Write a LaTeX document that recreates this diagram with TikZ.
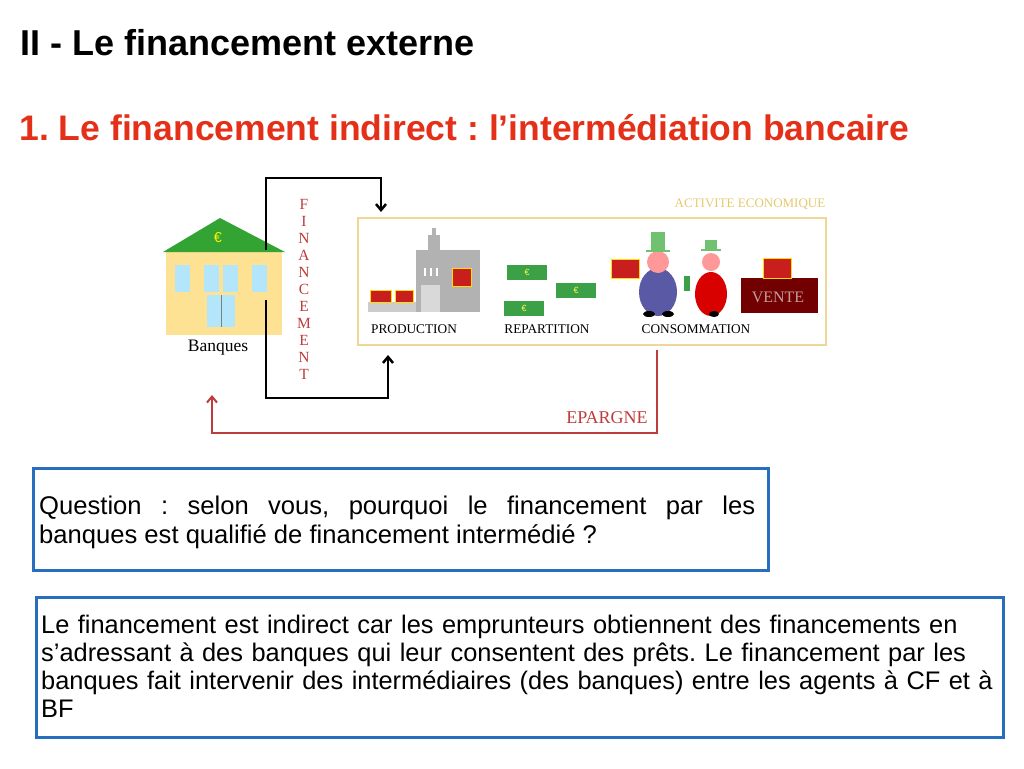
\documentclass[tikz,border=0pt]{standalone}
\usepackage{fontspec}
\setmainfont{Liberation Sans}
\newfontfamily\serf{Liberation Serif}
\usetikzlibrary{arrows.meta}
\definecolor{tred}{RGB}{228,48,24}
\definecolor{qblue}{RGB}{40,110,190}
\definecolor{dred}{RGB}{190,60,60}
\definecolor{ylab}{RGB}{230,200,110}
\definecolor{gift}{RGB}{200,30,30}
\definecolor{money}{RGB}{60,160,70}
\frenchspacing
\hyphenpenalty=10000 \exhyphenpenalty=10000
\begin{document}
\begin{tikzpicture}[x=1pt,y=-1pt,
  lbl/.style={font=\serf\fontsize{13.3}{14}\selectfont,inner sep=0},
  flow/.style={line width=2.5pt,-{Straight Barb[length=6pt,width=10pt]}},
  giftbox/.style={fill=gift,draw=yellow!80!orange,line width=1pt},
  note/.style={fill=money,inner sep=0,minimum width=40pt,minimum height=15pt,text=yellow!70,font=\small},
  qbox/.style={draw=qblue,line width=3pt,inner sep=0}]
\useasboundingbox (0,0) rectangle (1024,768);
\node[anchor=west,font=\bfseries\fontsize{36}{40}\selectfont] (t1) at (17,43) {II - Le financement externe};
\node[anchor=west,text=tred,font=\bfseries\fontsize{35.5}{40}\selectfont] (t2) at (16,128) {1. Le financement indirect : l’intermédiation bancaire};
% bank
\fill[yellow!50!orange!40] (166,250) rectangle (282,368);
\fill[green!55!black!80] (163,252) -- (220,218) -- (285,252) -- cycle;
\node[text=yellow,font=\Large] (eb) at (218,238) {€};
\foreach \x in {175,204,223,252}{\fill[cyan!30] (\x,265) rectangle (\x+15,292);}
\fill[cyan!30] (207,295) rectangle (235,327);
\draw[gray] (221,295) -- (221,327);
\fill[white] (166,330) rectangle (282,368);
\fill[yellow!50!orange!40] (166,330) rectangle (282,335);
\node[lbl,font=\serf\fontsize{17.5}{18}\selectfont] (bq) at (218,348) {Banques};
\coordinate (bt) at (266,250); \coordinate (bb) at (266,300); \coordinate (bs) at (212,395);
% activity box
\draw[ylab!70,line width=1.2pt] (358,218) rectangle (826,345);
\node[lbl,text=ylab,font=\serf\fontsize{13}{14}\selectfont] (ae) at (750,204) {ACTIVITE ECONOMIQUE};
\coordinate (at) at (381,212); \coordinate (ab) at (388,355); \coordinate (ae2) at (657,350);
% factory
\fill[gray!40] (368,302) rectangle (420,312);
\fill[gray!60] (416,250) rectangle (480,312);
\fill[gray!60] (428,235) rectangle (440,250);
\fill[gray!60] (432,228) rectangle (436,235);
\fill[gray!30] (421,285) rectangle (440,312);
\foreach \x in {424,430,436}{\fill[white] (\x,268) rectangle (\x+2,276);}
\draw[giftbox] (370,290) rectangle (391,302); \draw[giftbox] (395,290) rectangle (413,302); \draw[giftbox] (452,268) rectangle (471,286);
\node[lbl] (pr) at (414,329) {PRODUCTION};
% notes
\node[note] (n1) at (527,272) {€};
\node[note] (n2) at (576,290) {€};
\node[note] (n3) at (524,308) {€};
\node[lbl] (re) at (547,329) {REPARTITION};
% people
\fill[blue!30!gray] (658,292) ellipse (19pt and 24pt);
\fill[pink!80!red] (658,262) circle (11pt);
\fill[green!40!gray!80] (646,250) rectangle (670,252); \fill[green!40!gray!80] (651,232) rectangle (665,250);
\fill[red!85!black] (711,294) ellipse (16pt and 22pt);
\fill[pink!80!red] (711,262) circle (9pt);
\fill[green!40!gray!80] (701,249) rectangle (721,251); \fill[green!40!gray!80] (705,240) rectangle (717,249);
\fill (649,314) ellipse (6pt and 3pt); \fill (668,314) ellipse (6pt and 3pt); \fill (714,314) ellipse (5pt and 3pt);
\draw[giftbox] (611,259) rectangle (639,278);
\fill[money] (684,276) rectangle (690,291);
\fill[red!45!black] (741,278) rectangle (818,313);
\draw[giftbox] (763,258) rectangle (791,278);
\node[lbl,text=pink!50!gray,font=\serf\fontsize{16}{16}\selectfont] (ve) at (778,297) {VENTE};
\node[lbl] (co) at (696,329) {CONSOMMATION};
% flows
\draw[flow] (bt) -- (266,178) -- (381,178) -- (at);
\draw[flow] (bb) -- (266,398) -- (388,398) -- (ab);
\draw[flow,dred,line width=2pt] (ae2) -- (657,433) -- (212,433) -- (bs);
\node[lbl,text=dred,align=center,font=\serf\fontsize{15.5}{17}\selectfont] (fi) at (304,289) {F\\I\\N\\A\\N\\C\\E\\M\\E\\N\\T};
\node[lbl,text=dred,font=\serf\fontsize{18}{18}\selectfont] (ep) at (607,418) {EPARGNE};
% question boxes
\draw[qbox] (33,468) rectangle (768,570);
\node[anchor=north west,text width=716pt,align=justify,inner sep=0,font=\fontsize{25.6}{29}\selectfont] (q) at (39,496) {Question : selon vous, pourquoi le financement par les\linebreak banques est qualifié de financement intermédié ?};
\draw[qbox] (36,597) rectangle (1003,737);
\node[anchor=north west,text width=975pt,align=left,inner sep=0,font=\fontsize{25.4}{28}\selectfont] (a) at (41,615) {Le financement est indirect car les emprunteurs obtiennent des financements en\\s’adressant à des banques qui leur consentent des prêts. Le financement par les\\banques fait intervenir des intermédiaires (des banques) entre les agents à CF et à\\BF};
\end{tikzpicture}
\end{document}
